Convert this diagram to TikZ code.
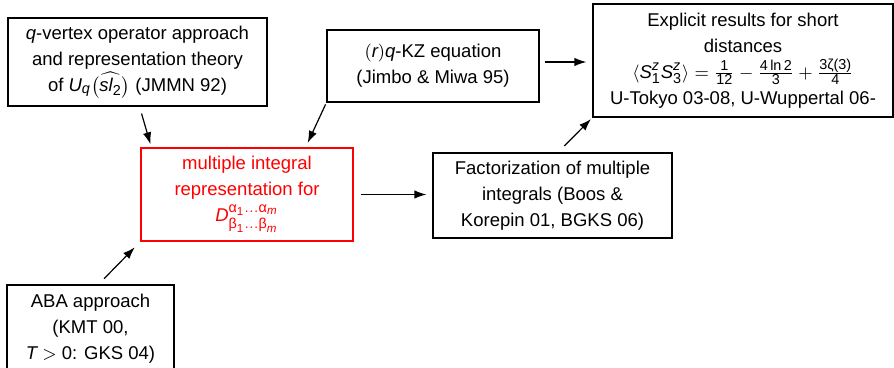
\documentclass[tikz,border=0pt]{standalone}
\usepackage{amsmath}
\usepackage{fontspec}
\setmainfont{Liberation Sans}
\usetikzlibrary{arrows.meta,calc}
\DeclareMathSizes{9.25}{9.25}{7.2}{5.8}
\newcommand{\vi}[1]{\textit{#1}}

\begin{document}
\begin{tikzpicture}[x=0.5pt,y=-0.5pt,
  box/.style={draw,line width=0.6pt,align=center,inner sep=0pt},
  link/.style={-{Latex[length=6pt,width=4.2pt]},line width=0.6pt},
  every node/.style={font=\fontsize{9.25}{13}\selectfont}]
\clip (0,0) rectangle (894,368);
\node[box,minimum width=129.5pt,minimum height=44pt] (qvo) at (137.5,62)
  {\vi{q}-vertex operator approach\\ and representation theory\\
   of $\vi{U}_{\vi{q}}\bigl(\widehat{\vi{sl}_{\text{2}}}\bigr)$ (JMMN 92)};
\node[box,minimum width=106pt,minimum height=36pt] (kz) at (433,66)
  {$(\vi{r})$\vi{q}-KZ equation\\ (Jimbo \& Miwa 95)};
\node[box,minimum width=150pt,minimum height=56.5pt] (expl) at (743,60.5)
  {Explicit results for short\\ distances\\
   $\langle \vi{S}^{\vi{z}}_{\text{1}}\vi{S}^{\vi{z}}_{\text{3}}\rangle
    = \frac{\text{1}}{\text{12}} - \frac{\text{4\,ln\,2}}{\text{3}}
    + \frac{\text{3ζ(3)}}{\text{4}}$\\
   U-Tokyo 03-08, U-Wuppertal 06-};
\node[box,draw=red,text=red,minimum width=106pt,minimum height=46.5pt] (mult) at (247,194.5)
  {multiple integral\\ representation for\\
   $\vi{D}^{\text{α}_{\text{1}}\ldots\text{α}_{\vi{m}}}_{\text{β}_{\text{1}}\ldots\text{β}_{\vi{m}}}$};
\node[box,minimum width=119.5pt,minimum height=42.5pt] (fact) at (552.5,195.5)
  {Factorization of multiple\\ integrals (Boos \&\\ Korepin 01, BGKS 06)};
\node[box,minimum width=83.5pt,minimum height=43.5pt] (aba) at (90.5,328.5)
  {ABA approach\\ (KMT 00,\\ $\vi{T}>\text{0}$: GKS 04)};

% arrows into and out of the multiple integral box
\draw[link,shorten <=3.6pt,shorten >=1.6pt] ($(qvo.south)+(2,0)$) -- ($(mult.north west)+(11,0)$);
\draw[link,shorten <=1pt,shorten >=2.5pt] (kz.south west) -- ($(mult.north east)+(-48,0)$);
\draw[link,shorten <=4pt,shorten >=4pt] ($(aba.north)+(8,0)$) -- (mult.south west);
\draw[link,shorten <=3.5pt,shorten >=3pt] (mult.east) -- (mult.east -| fact.west);
\draw[link,shorten <=2.5pt,shorten >=3pt] ($(kz.east)+(0,-4)$) -- ($(kz.east -| expl.west)+(0,-4)$);
\draw[link,shorten <=4.5pt,shorten >=1pt] ($(fact.north)+(5.5,0)$) -- (expl.south west);
\end{tikzpicture}
\end{document}
